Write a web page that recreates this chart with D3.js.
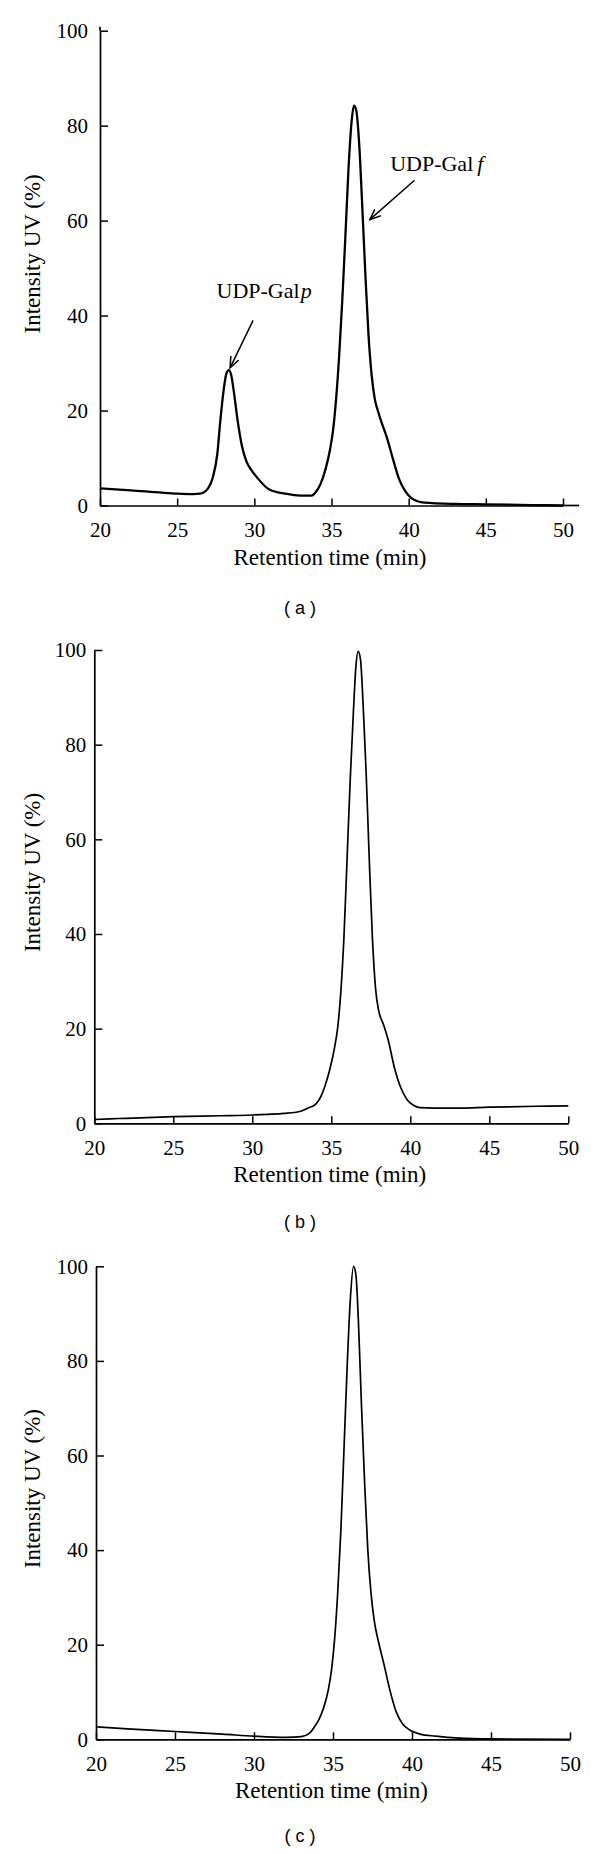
<!DOCTYPE html>
<html><head><meta charset="utf-8">
<script src="https://cdn.jsdelivr.net/npm/d3@7"></script>
<style>
body{margin:0;background:#fff}
svg{display:block}
svg text{font-family:'Liberation Serif','DejaVu Serif',serif;fill:#000}
svg text.caption{font-family:'Liberation Sans',Arial,sans-serif}
</style>
</head><body>
<svg id="chart" width="600" height="1854"></svg>
<script>
// ---- data ----
const xTicks = [20, 25, 30, 35, 40, 45, 50];
const yTicks = [0, 20, 40, 60, 80, 100];
const xTitle = "Retention time (min)";
const yTitle = "Intensity UV (%)";
const panelLabels = ["( a )", "( b )", "( c )"];

const timeA = [20,22,24,25,26,26.5,27,27.3,27.6,27.8,28.0,28.2,28.35,28.5,28.7,28.9,29.2,29.5,29.8,30.2,31,32,33,33.7,34.0,34.3,34.6,34.9,35.1,35.3,35.5,35.7,35.9,36.1,36.3,36.45,36.6,36.8,37.0,37.2,37.4,37.6,37.8,38.0,38.3,38.6,39.0,39.4,39.8,40.2,41,43,45,48,50];
const intensityA = [3.6,3.2,2.7,2.5,2.4,2.5,3.6,5.8,10.8,18,24,27.9,28.5,27.5,23.3,18.3,12.5,9.2,7.5,5.8,3.3,2.5,2.1,2.1,2.9,4.6,7.5,11.7,15.8,22.5,31.7,43.3,56.7,70.8,80.8,84.2,83.3,75.8,62.5,48.3,35.8,27.5,22.5,20,17,14.2,9.6,5.4,2.9,1.5,0.6,0.33,0.25,0.1,0];

const timeB = [20,21,22,25,28,30,31,32,33,33.5,34,34.3,34.6,34.9,35.2,35.4,35.6,35.8,36.0,36.2,36.4,36.55,36.7,36.85,37.0,37.2,37.4,37.6,37.8,38.0,38.3,38.6,39.0,39.4,39.8,40.2,40.6,41.5,43,45,48,50];
const intensityB = [0.8,0.95,1.05,1.4,1.6,1.75,1.9,2.1,2.5,3.2,4.0,5.4,7.9,11.3,15.9,20.1,27.6,39.3,56,72.8,87,96.2,99.7,97.9,89.5,74.5,56,39.3,28.5,23.8,20.9,17.6,11.7,7.5,5.0,3.8,3.3,3.2,3.2,3.4,3.6,3.7];

const timeC = [20,22,25,28,30,32,33,33.5,33.8,34.1,34.4,34.7,34.9,35.1,35.3,35.5,35.7,35.9,36.1,36.3,36.45,36.6,36.8,37.0,37.2,37.4,37.6,37.9,38.2,38.6,39.0,39.4,39.8,40.5,41.5,43,45,50];
const intensityC = [2.65,2.2,1.65,1.1,0.66,0.41,0.58,1.24,2.5,4.1,6.6,10.4,14.5,21.1,31.1,44.3,61.7,79.1,93.2,100,98.2,89.1,70.8,54.3,40.2,31.1,25.3,20.3,16.2,10.4,5.8,3.3,2.1,1.1,0.66,0.25,0.08,0];

const peakNames = ["UDP-Gal", "UDP-Gal"];
const peakSuffix = ["p", "f"];

// ---- drawing ----
const svg = d3.select("#chart");

svg.append("defs").append("marker")
  .attr("id", "arrow").attr("viewBox", "0 0 12 10")
  .attr("refX", 11).attr("refY", 5)
  .attr("markerWidth", 12).attr("markerHeight", 10)
  .attr("markerUnits", "userSpaceOnUse").attr("orient", "auto")
  .append("path").attr("d", "M0,0.5 L11,5 L0,9.5")
  .attr("fill", "none").attr("stroke", "#000").attr("stroke-width", 1.5);

const series = [
  [timeA, intensityA],
  [timeB, intensityB],
  [timeC, intensityC]
];

const layouts = [
  {left: 100, right: 563, bottom: 505.5, top: 30.7, yPad: 12, lw: 2.3, extX: 51.05, extTop: 4, cap: 608},
  {left: 94.3, right: 568.3, bottom: 1123.3, top: 650, yPad: 8, lw: 1.7, extX: null, extTop: 0, cap: 1222},
  {left: 96, right: 570, bottom: 1739.3, top: 1266.3, yPad: 8, lw: 1.7, extX: null, extTop: 0, cap: 1836}
];

layouts.forEach((L, i) => {
  const x = d3.scaleLinear().domain([20, 50]).range([L.left, L.right]);
  const y = d3.scaleLinear().domain([0, 100]).range([L.bottom, L.top]);
  const g = svg.append("g");

  const xa = g.append("g").attr("transform", `translate(0,${L.bottom})`)
    .call(d3.axisBottom(x).tickValues(xTicks).tickSizeInner(-7).tickSizeOuter(0).tickPadding(17).tickFormat(d3.format("d")));
  const ya = g.append("g").attr("transform", `translate(${L.left},0)`)
    .call(d3.axisLeft(y).tickValues(yTicks).tickSizeInner(-8).tickSizeOuter(0).tickPadding(L.yPad).tickFormat(d3.format("d")));
  [xa, ya].forEach(a => {
    a.attr("font-size", 21);
    a.select(".domain").attr("stroke", "#000").attr("stroke-width", 1.7);
    a.selectAll(".tick line").attr("stroke", "#000").attr("stroke-width", 1.5);
    a.selectAll(".tick text").attr("font-size", 21);
  });
  if (L.extX) {
    g.append("line").attr("x1", x(50)).attr("x2", x(L.extX))
      .attr("y1", L.bottom).attr("y2", L.bottom)
      .attr("stroke", "#000").attr("stroke-width", 1.7);
  }
  if (L.extTop) {
    g.append("line").attr("x1", L.left).attr("x2", L.left)
      .attr("y1", y(100)).attr("y2", y(100) - L.extTop)
      .attr("stroke", "#000").attr("stroke-width", 1.7);
  }

  const [tx, ty] = series[i];
  const pts = tx.map((t, k) => [t, ty[k]]);
  g.append("path").datum(pts)
    .attr("d", d3.line().x(d => x(d[0])).y(d => y(d[1])).curve(d3.curveMonotoneX))
    .attr("fill", "none").attr("stroke", "#000").attr("stroke-width", L.lw)
    .attr("stroke-linejoin", "round");

  g.append("text").attr("x", x(34.9)).attr("y", L.bottom + 59)
    .attr("text-anchor", "middle").attr("font-size", 23)
    .text(xTitle);

  g.append("text").attr("transform", `translate(40,${y(53)}) rotate(-90)`)
    .attr("text-anchor", "middle").attr("font-size", 23)
    .text(yTitle);

  g.append("text").attr("class", "caption").attr("x", 300).attr("y", L.cap + 6)
    .attr("text-anchor", "middle").attr("font-size", 18)
    .text(panelLabels[i]);

  if (i === 0) {
    const ann = [
      {tx: 27.55, ty: 43.75, x1: 29.92, y1: 39, x2: 28.43, y2: 29},
      {tx: 38.8, ty: 70.4, x1: 40.38, y1: 68.5, x2: 37.48, y2: 60.2}
    ];
    ann.forEach((a, k) => {
      const t = g.append("text").attr("x", x(a.tx)).attr("y", y(a.ty))
        .attr("font-size", 22);
      t.append("tspan").text(peakNames[k]);
      t.append("tspan").attr("font-style", "italic").attr("dx", k === 1 ? 4 : 1).text(peakSuffix[k]);
      g.append("line").attr("x1", x(a.x1)).attr("y1", y(a.y1))
        .attr("x2", x(a.x2)).attr("y2", y(a.y2))
        .attr("stroke", "#000").attr("stroke-width", 1.5)
        .attr("marker-end", "url(#arrow)");
    });
  }
});
</script>
</body></html>
